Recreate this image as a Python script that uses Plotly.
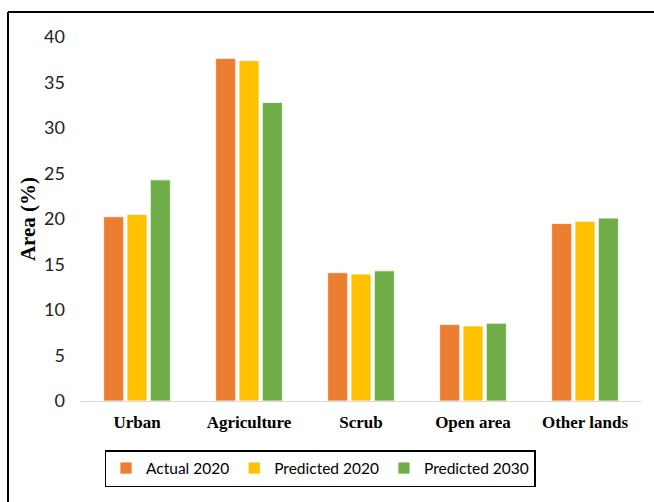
import plotly.graph_objects as go

categories = ["Urban", "Agriculture", "Scrub", "Open area", "Other lands"]
actual_2020 = [20.25, 37.65, 14.1, 8.4, 19.5]
predicted_2020 = [20.5, 37.4, 13.95, 8.25, 19.75]
predicted_2030 = [24.3, 32.8, 14.3, 8.55, 20.1]
series_names = ["Actual 2020", "Predicted 2020", "Predicted 2030"]
series_colors = ["#ED7D31", "#FFC000", "#70AD47"]
y_ticks = [0, 5, 10, 15, 20, 25, 30, 35, 40]

W, H = 654, 502
L, R, T, B = 81, 13, 37, 101
pw, ph = W - L - R, H - T - B

def px_x(x):
    return (x - L) / pw

def px_y(y):
    return (H - B - y) / ph

fig = go.Figure()
for name, vals, col in zip(series_names, [actual_2020, predicted_2020, predicted_2030], series_colors):
    fig.add_trace(go.Bar(x=categories, y=vals, name=name, marker_color=col,
                         marker_line_color="rgba(255,255,255,0.8)", marker_line_width=1))

sans = "Lato, Roboto, sans-serif"
serif = "Liberation Serif, Times New Roman, serif"

fig.update_layout(
    width=W, height=H,
    margin=dict(l=L, r=R, t=T, b=B),
    paper_bgcolor="white", plot_bgcolor="white",
    barmode="group", bargap=0.375, bargroupgap=0.14,
    xaxis=dict(showline=True, linecolor="#d9d9d9", linewidth=1, showgrid=False,
               tickfont=dict(family=serif, size=17, color="black"), ticks="",
               tickvals=categories, ticktext=["<b>%s</b>" % c for c in categories],
               ticklabelstandoff=6),
    yaxis=dict(range=[0, 40], tickvals=y_ticks, showgrid=False, zeroline=False, showline=False,
               tickfont=dict(family=sans, size=18, color="#222"), ticks="",
               ticklabelstandoff=15,
               title=dict(text="<b>Area (%)</b>", font=dict(family=serif, size=21, color="black"),
                          standoff=2)),
    legend=dict(orientation="h", x=px_x(320), y=px_y(450), xanchor="center", yanchor="top",
                bordercolor="black", borderwidth=1.5, bgcolor="white",
                font=dict(family=sans, size=15.5, color="black"),
                itemwidth=30, tracegroupgap=0),
    shapes=[
        dict(type="line", xref="paper", yref="paper", x0=px_x(8), x1=px_x(W + 2), y0=px_y(12), y1=px_y(12),
             line=dict(color="black", width=2)),
        dict(type="line", xref="paper", yref="paper", x0=px_x(8), x1=px_x(8), y0=px_y(12), y1=px_y(H + 2),
             line=dict(color="black", width=2)),
    ],
)

fig.write_html("out.html")
